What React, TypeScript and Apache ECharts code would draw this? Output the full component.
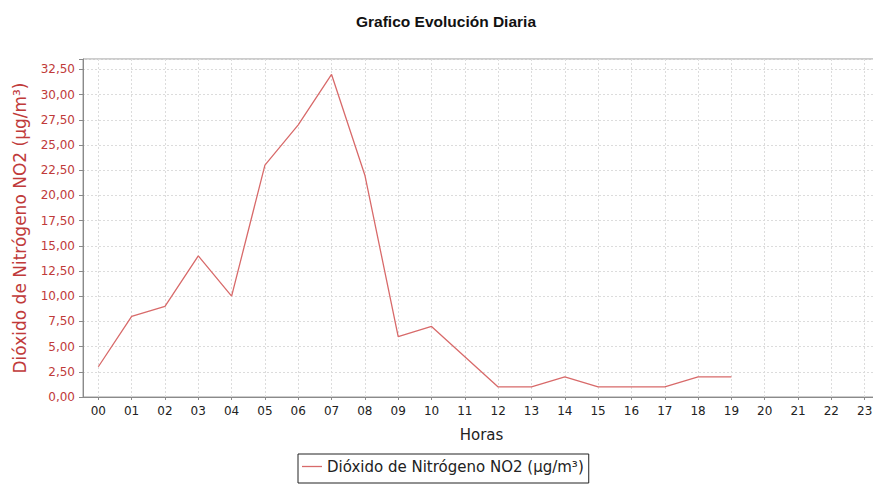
import React, { useEffect, useRef } from "react";
import * as echarts from "echarts";

const hours = ["00","01","02","03","04","05","06","07","08","09","10","11","12","13","14","15","16","17","18","19","20","21","22","23"];
const no2Values = [3, 8, 9, 14, 10, 23, 27, 32, 22, 6, 7, 4, 1, 1, 2, 1, 1, 1, 2, 2];
const seriesName = "Dióxido de Nitrógeno NO2 (µg/m³)";
const yAxisName = "Dióxido de Nitrógeno NO2 (µg/m³)";
const xAxisName = "Horas";
const titleText = "Grafico Evolución Diaria";

const Y_MAX = 33.53;
const FONT = "DejaVu Sans";

export default function App() {
  const ref = useRef<HTMLDivElement>(null);
  useEffect(() => {
    if (!ref.current) return;
    const chart = echarts.init(ref.current, null, { renderer: "svg" });
    const gridLine = { color: "#dcdcdc", type: [2, 2] as any, width: 1 };
    chart.setOption({
      animation: false,
      backgroundColor: "#ffffff",
      title: {
        text: titleText,
        left: 441,
        textAlign: "center",
        top: 8,
        textStyle: { fontFamily: "Liberation Sans", fontWeight: "bold", fontSize: 15.5, color: "#111" },
      },
      legend: {
        data: [seriesName],
        left: 298,
        top: 454,
        padding: [5, 5, 9, 4],
        borderColor: "#222",
        borderWidth: 1,
        icon: "rect",
        itemWidth: 20,
        itemHeight: 1.3,
        itemGap: 5,
        textStyle: { fontFamily: FONT, fontSize: 15, color: "#222" },
      },
      grid: [
        { left: 83, width: 797, top: 59, bottom: 87, show: true, borderColor: "#9a9a9a", borderWidth: 1, backgroundColor: "#fff", containLabel: false, outerBoundsMode: "none" },
        { left: 98.3, width: 766.4, top: 59, bottom: 87, show: false, containLabel: false, outerBoundsMode: "none" },
      ],
      xAxis: [
        {
          type: "value",
          gridIndex: 0,
          min: -0.46,
          max: 23.46,
          axisLine: { show: true, onZero: false, lineStyle: { color: "#8a8a8a" } },
          axisTick: { show: false },
          axisLabel: { show: false },
          splitLine: { show: false },
          name: xAxisName,
          nameLocation: "middle",
          nameGap: 30,
          nameTextStyle: { fontFamily: FONT, fontSize: 15, color: "#222" },
        },
        {
          type: "category",
          gridIndex: 1,
          data: hours,
          boundaryGap: false,
          axisLine: { show: false },
          axisTick: { show: true, length: 3, lineStyle: { color: "#8a8a8a" } },
          axisLabel: { fontFamily: FONT, fontSize: 12, color: "#222", margin: 8, interval: 0 },
          splitLine: { show: true, lineStyle: gridLine },
        },
      ],
      yAxis: [
        {
          type: "value",
          gridIndex: 0,
          min: 0,
          max: Y_MAX,
          interval: 2.5,
          axisLine: { show: true, onZero: false, lineStyle: { color: "#8a8a8a" } },
          axisTick: { show: true, length: 4, lineStyle: { color: "#8a8a8a" } },
          axisLabel: {
            fontFamily: FONT,
            fontSize: 12,
            color: "#c03a3a",
            margin: 8,
            formatter: (v: number) => {
              const k = v / 2.5;
              if (Math.abs(k - Math.round(k)) > 1e-6) return "";
              return v.toFixed(2).replace(".", ",");
            },
          },
          splitLine: { show: true, lineStyle: gridLine },
          name: yAxisName,
          nameLocation: "middle",
          nameGap: 55,
          nameTextStyle: { fontFamily: FONT, fontSize: 17, color: "#c03a3a" },
        },
        {
          type: "value",
          gridIndex: 1,
          min: 0,
          max: Y_MAX,
          axisLine: { show: false, onZero: false },
          axisTick: { show: false },
          axisLabel: { show: false },
          splitLine: { show: false },
        },
      ],
      series: [
        {
          name: seriesName,
          type: "line",
          xAxisIndex: 0,
          yAxisIndex: 0,
          data: no2Values.map((v, i) => [i, v]),
          showSymbol: false,
          symbol: "none",
          itemStyle: { color: "#d86a6a" },
          lineStyle: { color: "#d86a6a", width: 1.3 },
        },
      ],
    });
    return () => chart.dispose();
  }, []);
  return <div ref={ref} style={{ width: 873, height: 484, position: "absolute", left: 0, top: 0 }} />;
}
